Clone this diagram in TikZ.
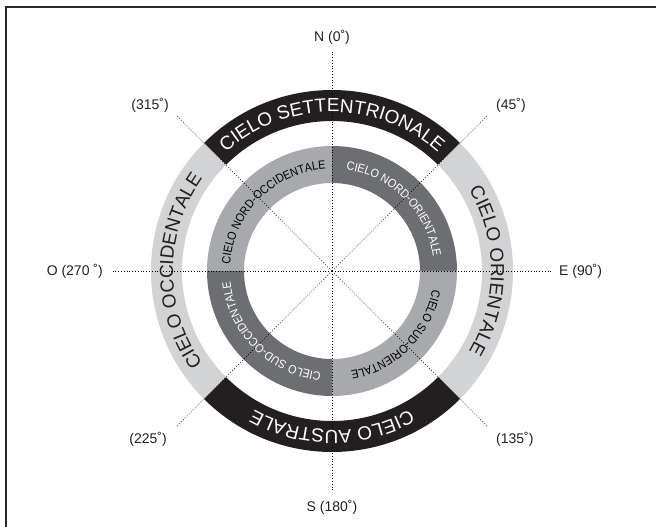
\documentclass[tikz,border=0pt]{standalone}
\usepackage{fontspec}
\setmainfont{Liberation Sans}
\newfontfamily\narrowf[FakeStretch=0.9]{Liberation Sans}
\usetikzlibrary{decorations.text}
\definecolor{bandblack}{RGB}{35,31,32}
\definecolor{bandlight}{RGB}{209,211,212}
\definecolor{innerlight}{RGB}{167,169,172}
\definecolor{innerdark}{RGB}{109,110,113}
\definecolor{framecol}{RGB}{40,40,40}
\newcommand\outerf{\fontsize{19}{22}\selectfont}
\newcommand\innerf{\narrowf\fontsize{12}{14}\selectfont}
\newcommand\ringsector[5]{\fill[#1] (#2:#4) arc[start angle=#2, end angle=#3, radius=#4] -- (#3:#5) arc[start angle=#3, end angle=#2, radius=#5] -- cycle;}
\tikzset{
  guide/.style={line width=0.7pt, dash pattern=on 0.9pt off 1.9pt, black},
  deglabel/.style={font=\fontsize{14}{16}\selectfont, inner sep=0pt, text=bandblack},
  frameline/.style={line width=2pt, framecol},
}
\begin{document}
\begin{tikzpicture}
\useasboundingbox (-332pt,-256pt) rectangle (324pt,271pt);
% frame (only top and left visible)
\draw[frameline] (-326pt,-256pt) -- (-326pt,264pt) -- (324pt,264pt);
% outer ring
\ringsector{bandblack}{45}{135}{181pt}{150pt}
\ringsector{bandlight}{-45}{45}{181pt}{150pt}
\ringsector{bandblack}{225}{315}{181pt}{150pt}
\ringsector{bandlight}{135}{225}{181pt}{150pt}
% inner ring
\ringsector{innerdark}{0}{90}{125pt}{88pt}
\ringsector{innerlight}{90}{180}{125pt}{88pt}
\ringsector{innerdark}{180}{270}{125pt}{88pt}
\ringsector{innerlight}{270}{360}{125pt}{88pt}
% centre and guide-line ends
\coordinate (c) at (0,0);
\coordinate (eN) at (90:221pt);
\coordinate (eNE) at (45:221pt);
\coordinate (eE) at (0:221pt);
\coordinate (eSE) at (-45:221pt);
\coordinate (eS) at (-90:221pt);
\coordinate (eSW) at (-135:221pt);
\coordinate (eW) at (180:221pt);
\coordinate (eNW) at (135:221pt);
\foreach \e in {eN,eNE,eE,eSE,eS,eSW,eW,eNW}{\draw[guide] (c) -- (\e);}
% labels
\node[deglabel] (lN) at (0pt,234pt) {N (0˚)};
\node[deglabel] (lS) at (0pt,-236pt) {S (180˚)};
\node[deglabel, anchor=east] (lW) at (-229pt,0pt) {O (270 ˚)};
\node[deglabel, anchor=west] (lE) at (227pt,0pt) {E (90˚)};
\node[deglabel, anchor=west] (lNE) at (164pt,166pt) {(45˚)};
\node[deglabel, anchor=east] (lNW) at (-163pt,166pt) {(315˚)};
\node[deglabel, anchor=west] (lSE) at (164pt,-168pt) {(135˚)};
\node[deglabel, anchor=east] (lSW) at (-165pt,-168pt) {(225˚)};
% outer ring texts
\path[decorate, decoration={text along path, text align=center, text={|\outerf\color{white}|CIELO SETTENTRIONALE}}] (135:159pt) arc[start angle=135, end angle=45, radius=159pt];
\path[decorate, decoration={text along path, text align=center, text={|\outerf\color{bandblack}|CIELO ORIENTALE}}] (45:159pt) arc[start angle=45, end angle=-45, radius=159pt];
\path[decorate, decoration={text along path, text align=center, text={|\outerf\color{white}|CIELO AUSTRALE}}] (-45:159pt) arc[start angle=-45, end angle=-135, radius=159pt];
\path[decorate, decoration={text along path, text align=center, text={|\outerf\color{bandblack}|CIELO OCCIDENTALE}}] (225:159pt) arc[start angle=225, end angle=135, radius=159pt];
% inner ring texts
\path[decorate, decoration={text along path, text align=center, text={|\innerf\color{black}|CIELO NORD-OCCIDENTALE}}] (180:102pt) arc[start angle=180, end angle=90, radius=102pt];
\path[decorate, decoration={text along path, text align=center, text={|\innerf\color{white}|CIELO NORD-ORIENTALE}}] (90:102pt) arc[start angle=90, end angle=0, radius=102pt];
\path[decorate, decoration={text along path, text align=center, text={|\innerf\color{black}|CIELO SUD-ORIENTALE}}] (0:102pt) arc[start angle=0, end angle=-90, radius=102pt];
\path[decorate, decoration={text along path, text align=center, text={|\innerf\color{white}|CIELO SUD-OCCIDENTALE}}] (-90:102pt) arc[start angle=-90, end angle=-180, radius=102pt];
\end{tikzpicture}
\end{document}
